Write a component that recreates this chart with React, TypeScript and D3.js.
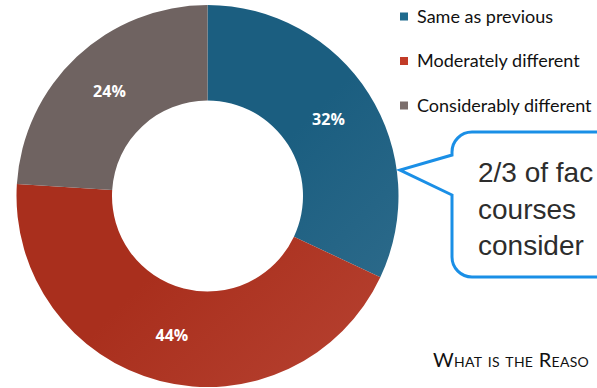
import React from "react";
import * as d3 from "d3";

const categories = ["Same as previous", "Moderately different", "Considerably different"];
const values = [32, 44, 24];
const labels = ["32%", "44%", "24%"];
const colorsDark = ["#1b5e80", "#a92f1d", "#6f6361"];
const colorsLight = ["#4d819e", "#c85a4a", "#8e817f"];
const legendColors = ["#1f6a8d", "#c23b27", "#7c6e6c"];
const calloutLines = ["2/3 of fac", "courses", "consider"];
const titleLines = ["What is the Reaso", "the"];

export default function App() {
  const W = 597, H = 388;
  const cx = 207.5, cy = 196, rOuter = 191, rInner = 95.5;
  const pie = d3.pie<number>().sort(null).value((d) => d);
  const arcs = pie(values);
  const arc = d3.arc<d3.PieArcDatum<number>>().innerRadius(rInner).outerRadius(rOuter);
  const legendY = d3.scalePoint<string>().domain(categories).range([16.5, 105.5]);

  const calloutPath =
    "M452,195 L400,170 L452,155 L452,152 A20,20 0 0 1 472,132 L640,132 L640,277 L472,277 A20,20 0 0 1 452,257 Z";

  return (
    <svg width={W} height={H} style={{ position: "absolute", left: 0, top: 0, background: "#fff" }}>
      <defs>
        {values.map((_, i) => (
          <linearGradient
            key={i}
            id={`g${i}`}
            gradientUnits="userSpaceOnUse"
            x1={cx - rOuter}
            y1={cy - rOuter}
            x2={cx + rOuter}
            y2={cy + rOuter}
          >
            <stop offset="0" stopColor={colorsDark[i]} />
            <stop offset="1" stopColor={colorsLight[i]} />
          </linearGradient>
        ))}
      </defs>
      {arcs.map((a, i) => (
        <path key={"p" + i} d={arc(a) || ""} transform={`translate(${cx},${cy})`} fill={`url(#g${i})`} />
      ))}
      {arcs.map((a, i) => {
        const [x, y] = arc.centroid(a);
        return (
          <text
            key={"l" + i}
            x={cx + x}
            y={cy + y}
            dy="0.36em"
            textAnchor="middle"
            fill="#fff"
            fontFamily="'Open Sans', sans-serif"
            fontWeight={700}
            fontSize={16}
          >
            {labels[i]}
          </text>
        );
      })}
      {categories.map((c, i) => {
        const y = legendY(c) || 0;
        return (
          <g key={"lg" + i}>
            <rect x={400} y={y - 4} width={8} height={8} fill={legendColors[i]} />
            <text x={417} y={y} dy="0.36em" fontFamily="Lato, sans-serif" fontSize={18} fill="#111">
              {c}
            </text>
          </g>
        );
      })}
      <path d={calloutPath} fill="#fff" stroke="#1a8fe6" strokeWidth={3} strokeLinejoin="miter" />
      {calloutLines.map((t, i) => (
        <text key={"c" + i} x={478} y={182 + i * 36.5} fontFamily="'Liberation Sans', Arial, sans-serif" fontSize={28} fill="#2d2d2d">
          {t}
        </text>
      ))}
      {titleLines.map((t, i) => (
        <text
          key={"t" + i}
          x={i === 0 ? 433 : 562}
          y={367 + i * 32}
          fontFamily="Lato, sans-serif"
          fontSize={20}
          letterSpacing={0.3}
          fill="#111"
          style={{ fontVariant: "small-caps" }}
        >
          {t}
        </text>
      ))}
    </svg>
  );
}
